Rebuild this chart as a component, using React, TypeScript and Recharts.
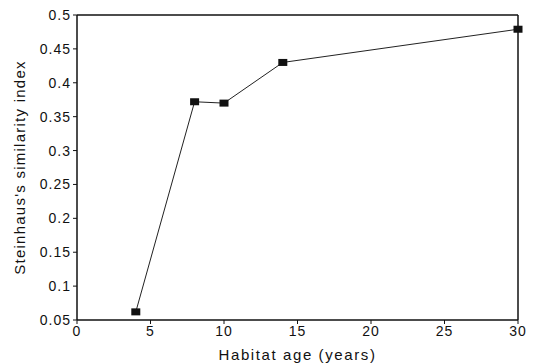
import React from "react";
import { LineChart, Line, XAxis, YAxis, Label, ReferenceLine } from "recharts";

const ages = [4, 8, 10, 14, 30];
const similarity = [0.062, 0.372, 0.37, 0.43, 0.479];
const xTicks = [0, 5, 10, 15, 20, 25, 30];
const yTicks = [0.05, 0.1, 0.15, 0.2, 0.25, 0.3, 0.35, 0.4, 0.45, 0.5];

const data = ages.map((a, i) => ({ age: a, s: similarity[i] }));

const font = "'Liberation Sans', Arial, sans-serif";

const SquareDot = (props: any) => {
  const { cx, cy, index } = props;
  if (cx == null || cy == null) return null;
  return <rect key={index} x={cx - 4.5} y={cy - 3.5} width={9} height={7} fill="#111" />;
};

const frame = { stroke: "#111", strokeWidth: 1.5 };

export default function App() {
  return (
    <div style={{ position: "absolute", left: 0, top: 0, background: "#fff" }}>
      <LineChart
        width={535}
        height={364}
        data={data}
        margin={{ top: 15, right: 17, bottom: 0, left: 0 }}
      >
        <XAxis
          dataKey="age"
          type="number"
          domain={[0, 30]}
          ticks={xTicks}
          height={44}
          interval={0}
          tickSize={4}
          tick={{ fill: "#111", fontSize: 14, fontFamily: font, letterSpacing: 1 }}
          tickLine={{ stroke: "#111" }}
          axisLine={false}
        >
          <Label
            value="Habitat age (years)"
            position="insideBottom"
            offset={4}
            style={{ fill: "#111", fontSize: 15, fontFamily: font, letterSpacing: 1.6 }}
          />
        </XAxis>
        <YAxis
          type="number"
          domain={[0.05, 0.5]}
          ticks={yTicks}
          width={77}
          interval={0}
          tickSize={4}
          tickFormatter={(v: number) => String(+v.toFixed(2))}
          tick={{ fill: "#111", fontSize: 14, fontFamily: font, letterSpacing: 1 }}
          tickLine={{ stroke: "#111" }}
          axisLine={false}
        >
          <Label
            value="Steinhaus's similarity index"
            angle={-90}
            position="insideLeft"
            offset={20}
            style={{ fill: "#111", fontSize: 15, fontFamily: font, letterSpacing: 1.25, textAnchor: "middle" }}
          />
        </YAxis>
        <ReferenceLine y={0.05} {...frame} ifOverflow="visible" />
        <ReferenceLine y={0.5} {...frame} ifOverflow="visible" />
        <ReferenceLine x={0} {...frame} ifOverflow="visible" />
        <ReferenceLine x={30} {...frame} ifOverflow="visible" />
        <Line
          dataKey="s"
          stroke="#222"
          strokeWidth={1}
          dot={<SquareDot />}
          activeDot={false}
          isAnimationActive={false}
        />
      </LineChart>
    </div>
  );
}
